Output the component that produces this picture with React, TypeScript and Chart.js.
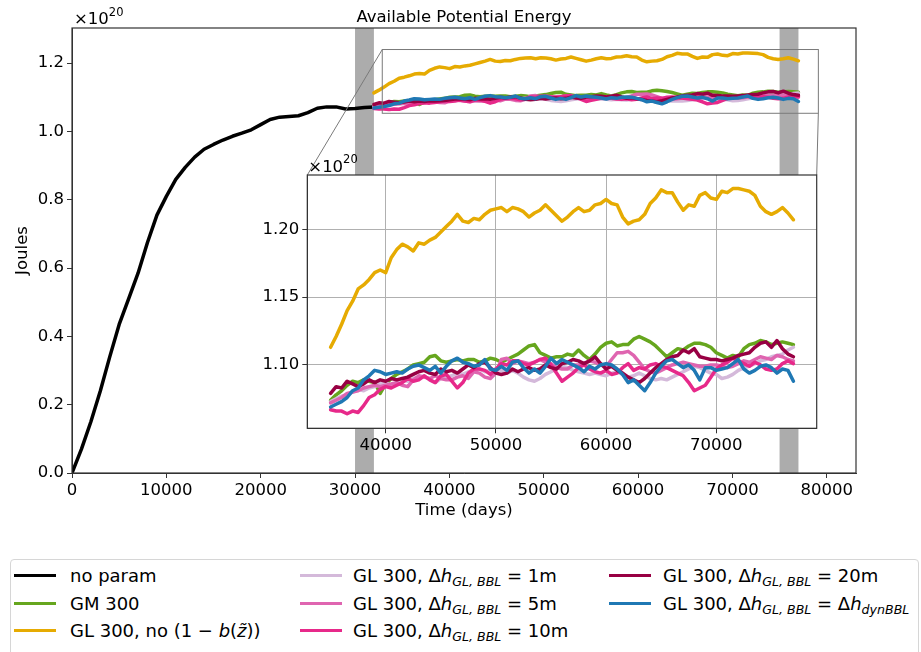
import React, { useEffect, useRef } from 'react';
import { Chart, registerables } from 'chart.js';

Chart.register(...registerables);

const FONT = '"DejaVu Sans", "Liberation Sans", sans-serif';
const FS = 16.5;

// ---------- axes ----------
const mainXTicks = [0, 10000, 20000, 30000, 40000, 50000, 60000, 70000, 80000];
const mainYTicks = [0.0, 0.2, 0.4, 0.6, 0.8, 1.0, 1.2];
const mainXRange = [0, 83100];
const mainYRange = [0, 1.303];
const shadedPeriods = [
  [30000, 32000],
  [75000, 77000],
];

const insetXTicks = [40000, 50000, 60000, 70000];
const insetYTicks = [1.1, 1.15, 1.2];
const insetXRange = [32886, 79110];
const insetYRange = [1.0533, 1.24];

// ---------- data ----------
const noParamDays = [
  0, 1000, 2000, 3000, 4000, 5000, 6000, 7000, 8000, 9000, 10000, 11000, 12000, 13000, 14000, 15000, 16000,
  17000, 18000, 19000, 20000, 21000, 22000, 23000, 24000, 25000, 26000, 27000, 28000, 29000, 30000, 31000, 32000,
];
const noParam = [
  0.0, 0.07, 0.15, 0.24, 0.34, 0.435, 0.51, 0.585, 0.675, 0.755, 0.81, 0.86, 0.895, 0.925, 0.948, 0.962, 0.975,
  0.986, 0.995, 1.005, 1.02, 1.035, 1.042, 1.044, 1.046, 1.055, 1.068, 1.072, 1.072, 1.066, 1.067, 1.07, 1.072,
];

// runs after the spin-up (inset time base: 35000 .. 77000 days, every 500 days)
const runFirstDay = 35000;
const runStepDays = 500;
const mainRunFirstDay = 32000;
const runLastDay = 77000;

const gm300 = [
  1.074, 1.078, 1.081, 1.085, 1.088, 1.087, 1.089, 1.088, 1.087, 1.079,
  1.086, 1.09, 1.093, 1.095, 1.097, 1.1, 1.101, 1.102, 1.106, 1.107,
  1.103, 1.102, 1.103, 1.104, 1.103, 1.104, 1.104, 1.102, 1.103, 1.105,
  1.104, 1.102, 1.104, 1.106, 1.108, 1.111, 1.114, 1.115, 1.109, 1.107,
  1.105, 1.106, 1.106, 1.108, 1.107, 1.111, 1.107, 1.104, 1.108, 1.113,
  1.116, 1.117, 1.114, 1.115, 1.115, 1.119, 1.121, 1.119, 1.117, 1.114,
  1.11, 1.106, 1.109, 1.112, 1.111, 1.114, 1.116, 1.116, 1.115, 1.113,
  1.109, 1.107, 1.105, 1.107, 1.106, 1.112, 1.115, 1.116, 1.118, 1.117,
  1.115, 1.116, 1.117, 1.116, 1.115,
];
const glNoB = [
  1.113, 1.121, 1.13, 1.14, 1.147, 1.156, 1.159, 1.163, 1.168, 1.17,
  1.168, 1.179, 1.185, 1.189, 1.187, 1.184, 1.19, 1.189, 1.192, 1.194,
  1.198, 1.202, 1.206, 1.211, 1.206, 1.205, 1.208, 1.207, 1.211, 1.214,
  1.215, 1.216, 1.213, 1.216, 1.215, 1.213, 1.209, 1.212, 1.214, 1.218,
  1.214, 1.21, 1.206, 1.209, 1.213, 1.216, 1.213, 1.214, 1.218, 1.219,
  1.222, 1.219, 1.218, 1.209, 1.204, 1.206, 1.207, 1.211, 1.219, 1.223,
  1.229, 1.227, 1.227, 1.22, 1.214, 1.218, 1.217, 1.225, 1.227, 1.223,
  1.222, 1.228, 1.227, 1.23, 1.23, 1.229, 1.228, 1.225, 1.217, 1.213,
  1.211, 1.213, 1.216, 1.212, 1.207,
];
const gl1m = [
  1.073, 1.075, 1.077, 1.078, 1.08, 1.082, 1.081, 1.083, 1.084, 1.086,
  1.087, 1.085, 1.087, 1.089, 1.088, 1.09, 1.091, 1.092, 1.089, 1.087,
  1.09, 1.091, 1.092, 1.094, 1.093, 1.095, 1.096, 1.097, 1.095, 1.096,
  1.097, 1.096, 1.094, 1.096, 1.094, 1.091, 1.089, 1.088, 1.09, 1.093,
  1.095, 1.097, 1.099, 1.098, 1.096, 1.095, 1.094, 1.093, 1.094, 1.093,
  1.092, 1.094, 1.095, 1.093, 1.091, 1.092, 1.094, 1.092, 1.09, 1.089,
  1.09, 1.089, 1.091, 1.093, 1.095, 1.097, 1.099, 1.098, 1.096, 1.094,
  1.093, 1.09, 1.091, 1.093, 1.096, 1.098, 1.099, 1.101, 1.103, 1.104,
  1.106, 1.107, 1.108, 1.111, 1.113,
];
const gl5m = [
  1.072, 1.074, 1.076, 1.079, 1.08, 1.081, 1.083, 1.084, 1.085, 1.084,
  1.085, 1.086, 1.087, 1.085, 1.084, 1.089, 1.092, 1.091, 1.09, 1.092,
  1.09, 1.089, 1.089, 1.091, 1.092, 1.09, 1.095, 1.094, 1.091, 1.09,
  1.094, 1.104, 1.105, 1.101, 1.103, 1.102, 1.101, 1.102, 1.104, 1.102,
  1.101, 1.098, 1.097, 1.097, 1.1, 1.1, 1.101, 1.103, 1.102, 1.1,
  1.099, 1.104, 1.109, 1.109, 1.11, 1.107, 1.102, 1.097, 1.095, 1.094,
  1.096, 1.098, 1.1, 1.101, 1.102, 1.101, 1.1, 1.099, 1.099, 1.1,
  1.1, 1.099, 1.098, 1.099, 1.101, 1.103, 1.102, 1.104, 1.106, 1.105,
  1.104, 1.107, 1.106, 1.104, 1.103,
];
const gl10m = [
  1.067, 1.066, 1.066, 1.064, 1.066, 1.065, 1.07, 1.076, 1.078, 1.082,
  1.084, 1.083, 1.085, 1.087, 1.09, 1.088, 1.089, 1.092, 1.089, 1.087,
  1.092, 1.093, 1.088, 1.083, 1.087, 1.094, 1.097, 1.097, 1.096, 1.093,
  1.097, 1.101, 1.1, 1.103, 1.103, 1.101, 1.1, 1.102, 1.104, 1.105,
  1.1, 1.094, 1.088, 1.091, 1.094, 1.098, 1.1, 1.097, 1.095, 1.094,
  1.096, 1.093, 1.094, 1.098, 1.101, 1.096, 1.098, 1.097, 1.1, 1.101,
  1.099, 1.098, 1.096, 1.094, 1.092, 1.087, 1.081, 1.083, 1.085, 1.091,
  1.097, 1.1, 1.102, 1.105, 1.103, 1.101, 1.099, 1.102, 1.1, 1.097,
  1.096, 1.097, 1.101, 1.103, 1.101,
];
const gl20m = [
  1.079, 1.084, 1.083, 1.088, 1.086, 1.084, 1.086, 1.089, 1.087, 1.089,
  1.088, 1.09, 1.089, 1.09, 1.091, 1.093, 1.095, 1.096, 1.094, 1.093,
  1.097, 1.095, 1.096, 1.094, 1.097, 1.1, 1.098, 1.101, 1.102, 1.098,
  1.094, 1.093, 1.094, 1.097, 1.095, 1.097, 1.098, 1.096, 1.097, 1.1,
  1.098, 1.097, 1.101, 1.102, 1.104, 1.103, 1.101, 1.103, 1.106, 1.101,
  1.097, 1.099, 1.096, 1.094, 1.091, 1.089, 1.087, 1.09, 1.094, 1.098,
  1.101, 1.104, 1.106, 1.107, 1.111, 1.109, 1.112, 1.106, 1.105, 1.104,
  1.104, 1.103, 1.104, 1.105, 1.107, 1.108, 1.109, 1.113, 1.116, 1.117,
  1.113, 1.118, 1.112, 1.108, 1.106,
];
const glDyn = [
  1.069, 1.071, 1.073, 1.076, 1.081, 1.083, 1.089, 1.092, 1.096, 1.095,
  1.093, 1.094, 1.095, 1.094, 1.097, 1.099, 1.1, 1.098, 1.096, 1.099,
  1.094, 1.099, 1.103, 1.105, 1.102, 1.101, 1.099, 1.1, 1.104, 1.097,
  1.096, 1.099, 1.096, 1.102, 1.103, 1.098, 1.094, 1.097, 1.094, 1.099,
  1.105, 1.101, 1.104, 1.102, 1.1, 1.098, 1.095, 1.099, 1.097, 1.1,
  1.101, 1.1, 1.097, 1.093, 1.087, 1.089, 1.085, 1.081, 1.087, 1.094,
  1.099, 1.103, 1.104, 1.101, 1.098, 1.1, 1.096, 1.089, 1.098, 1.098,
  1.096, 1.097, 1.098, 1.101, 1.104, 1.097, 1.094, 1.096, 1.099, 1.1,
  1.098, 1.094, 1.097, 1.096, 1.088,
];

const BLACK = '#000000';
const GREEN = '#66a61e';
const YELLOW = '#e6ab02';
const LAVENDER = '#d4b9da';
const PINK = '#df65b0';
const MAGENTA = '#e7298a';
const MAROON = '#980043';
const BLUE = '#1f78b4';

// runs in plotting order (last one on top)
const runs = [
  { name: 'GM 300', values: gm300, color: GREEN },
  { name: 'GL 300, no (1-b)', values: glNoB, color: YELLOW },
  { name: 'GL 300, 1m', values: gl1m, color: LAVENDER },
  { name: 'GL 300, 5m', values: gl5m, color: PINK },
  { name: 'GL 300, 10m', values: gl10m, color: MAGENTA },
  { name: 'GL 300, 20m', values: gl20m, color: MAROON },
  { name: 'GL 300, dyn', values: glDyn, color: BLUE },
];

const insetDays = gm300.map((_, i) => runFirstDay + i * runStepDays);
const mainRunDays = insetDays.map(
  (d) => mainRunFirstDay + ((d - runFirstDay) * (runLastDay - mainRunFirstDay)) / (runLastDay - runFirstDay)
);

const toPoints = (xs: number[], ys: number[]) => ys.map((v, i) => ({ x: xs[i], y: v }));

// ---------- layout (pixels in the 921x652 page) ----------
const MAIN = { w: 921, h: 540, left: 72, top: 28, right: 856, bottom: 473 };
const INSET_CANVAS = { left: 250, top: 150, w: 580, h: 310 };
const INSET = { left: 307.3, top: 175, right: 816.7, bottom: 428.3 };

const TICK_FONT = { family: FONT, size: FS };

const mainPlugin = {
  id: 'mainDecor',
  beforeDatasetsDraw(chart: any) {
    const { ctx, chartArea: a, scales } = chart;
    const x = scales.x;
    ctx.save();
    ctx.fillStyle = '#acacac';
    for (const [s, e] of shadedPeriods) {
      const x0 = x.getPixelForValue(s);
      const x1 = x.getPixelForValue(e);
      ctx.fillRect(x0, a.top, x1 - x0, a.bottom - a.top);
    }
    ctx.restore();
  },
  afterDatasetsDraw(chart: any) {
    const { ctx, chartArea: a, scales } = chart;
    const x = scales.x;
    const y = scales.y;
    ctx.save();
    // zoom rectangle
    const rx0 = x.getPixelForValue(insetXRange[0]);
    const rx1 = x.getPixelForValue(insetXRange[1]);
    const ryTop = y.getPixelForValue(insetYRange[1]);
    const ryBot = y.getPixelForValue(insetYRange[0]);
    ctx.strokeStyle = '#7a7a7a';
    ctx.lineWidth = 1;
    ctx.strokeRect(rx0, ryTop, rx1 - rx0, ryBot - ryTop);
    ctx.beginPath();
    ctx.moveTo(rx0, ryTop);
    ctx.lineTo(INSET.left, INSET.top);
    ctx.moveTo(rx1, ryBot);
    ctx.lineTo(INSET.right, INSET.top);
    ctx.stroke();
    // frame
    ctx.strokeStyle = '#333333';
    ctx.lineWidth = 1.2;
    ctx.strokeRect(a.left, a.top, a.right - a.left, a.bottom - a.top);
    // texts
    ctx.fillStyle = '#000';
    ctx.textBaseline = 'alphabetic';
    ctx.font = `${FS}px ${FONT}`;
    ctx.textAlign = 'center';
    ctx.fillText('Available Potential Energy', (a.left + a.right) / 2, 22);
    ctx.fillText('Time (days)', (a.left + a.right) / 2, 515);
    ctx.textAlign = 'left';
    ctx.fillText('×10', a.left + 2, 24);
    const w = ctx.measureText('×10').width;
    ctx.font = `11.5px ${FONT}`;
    ctx.fillText('20', a.left + 2 + w, 16);
    ctx.font = `${FS}px ${FONT}`;
    ctx.translate(23, (a.top + a.bottom) / 2);
    ctx.rotate(-Math.PI / 2);
    ctx.textAlign = 'center';
    ctx.textBaseline = 'middle';
    ctx.fillText('Joules', 0, 0);
    ctx.restore();
  },
};

const insetPlugin = {
  id: 'insetDecor',
  beforeDraw(chart: any) {
    const { ctx, chartArea: a } = chart;
    ctx.save();
    ctx.fillStyle = '#ffffff';
    ctx.fillRect(a.left, a.top, a.right - a.left, a.bottom - a.top);
    ctx.restore();
  },
  afterDraw(chart: any) {
    const { ctx, chartArea: a } = chart;
    ctx.save();
    ctx.strokeStyle = '#333333';
    ctx.lineWidth = 1.2;
    ctx.strokeRect(a.left, a.top, a.right - a.left, a.bottom - a.top);
    ctx.fillStyle = '#000';
    ctx.textAlign = 'left';
    ctx.textBaseline = 'alphabetic';
    ctx.font = `${FS}px ${FONT}`;
    ctx.fillText('×10', a.left + 1, a.top - 3.5);
    const w = ctx.measureText('×10').width;
    ctx.font = `11.5px ${FONT}`;
    ctx.fillText('20', a.left + 1 + w, a.top - 12);
    ctx.restore();
  },
};

function lineDataset(label: string, data: any[], color: string, order: number, width: number) {
  return {
    label,
    data,
    borderColor: color,
    backgroundColor: color,
    borderWidth: width,
    pointRadius: 0,
    tension: 0,
    fill: false,
    borderJoinStyle: 'round' as const,
    borderCapStyle: 'round' as const,
    order,
  };
}

function MainChart() {
  const ref = useRef<HTMLCanvasElement>(null);
  useEffect(() => {
    const datasets: any[] = [lineDataset('no param', toPoints(noParamDays, noParam), BLACK, 100, 3.5)];
    runs.forEach((r, i) => {
      datasets.push(lineDataset(r.name, toPoints(mainRunDays, r.values), r.color, runs.length - i, 3.5));
    });
    const chart = new Chart(ref.current as HTMLCanvasElement, {
      type: 'line',
      data: { datasets },
      options: {
        responsive: false,
        animation: false,
        events: [],
        layout: {
          padding: { left: 0, top: MAIN.top, right: MAIN.w - MAIN.right, bottom: MAIN.h - MAIN.bottom - 30 },
        },
        plugins: { legend: { display: false }, tooltip: { enabled: false }, title: { display: false } },
        scales: {
          x: {
            type: 'linear',
            min: mainXRange[0],
            max: mainXRange[1],
            afterBuildTicks: (s: any) => {
              s.ticks = mainXTicks.map((v) => ({ value: v }));
            },
            afterFit: (s: any) => {
              s.height = 30;
            },
            ticks: {
              font: TICK_FONT,
              color: '#000',
              maxRotation: 0,
              autoSkip: false,
              padding: 3,
              callback: (v: any) => String(v),
            },
            grid: { drawOnChartArea: false, drawTicks: true, tickLength: 5, color: '#333', tickColor: '#333' },
            border: { display: true, color: '#333' },
          },
          y: {
            type: 'linear',
            min: mainYRange[0],
            max: mainYRange[1],
            afterBuildTicks: (s: any) => {
              s.ticks = mainYTicks.map((v) => ({ value: v }));
            },
            afterFit: (s: any) => {
              s.width = MAIN.left;
            },
            ticks: {
              font: TICK_FONT,
              color: '#000',
              autoSkip: false,
              padding: 3,
              callback: (v: any) => Number(v).toFixed(1),
            },
            grid: { drawOnChartArea: false, drawTicks: true, tickLength: 5, color: '#333', tickColor: '#333' },
            border: { display: true, color: '#333' },
          },
        },
      } as any,
      plugins: [mainPlugin],
    });
    return () => chart.destroy();
  }, []);
  return (
    <canvas
      ref={ref}
      width={MAIN.w}
      height={MAIN.h}
      style={{ position: 'absolute', left: 0, top: 0, width: MAIN.w, height: MAIN.h }}
    />
  );
}

function InsetChart() {
  const ref = useRef<HTMLCanvasElement>(null);
  useEffect(() => {
    const datasets: any[] = runs.map((r, i) =>
      lineDataset(r.name, toPoints(insetDays, r.values), r.color, runs.length - i, 3.5)
    );
    const cL = INSET.left - INSET_CANVAS.left;
    const cT = INSET.top - INSET_CANVAS.top;
    const cR = INSET_CANVAS.w - (INSET.right - INSET_CANVAS.left);
    const cB = INSET_CANVAS.h - (INSET.bottom - INSET_CANVAS.top);
    const chart = new Chart(ref.current as HTMLCanvasElement, {
      type: 'line',
      data: { datasets },
      options: {
        responsive: false,
        animation: false,
        events: [],
        clip: true,
        layout: { padding: { left: 0, top: cT, right: cR, bottom: cB - 25 } },
        plugins: { legend: { display: false }, tooltip: { enabled: false }, title: { display: false } },
        scales: {
          x: {
            type: 'linear',
            min: insetXRange[0],
            max: insetXRange[1],
            afterBuildTicks: (s: any) => {
              s.ticks = insetXTicks.map((v) => ({ value: v }));
            },
            afterFit: (s: any) => {
              s.height = 25;
            },
            ticks: {
              font: TICK_FONT,
              color: '#000',
              maxRotation: 0,
              autoSkip: false,
              padding: 3,
              callback: (v: any) => String(v),
            },
            grid: { drawOnChartArea: true, drawTicks: true, tickLength: 5, color: '#b0b0b0', tickColor: '#333', lineWidth: 1 },
            border: { display: true, color: '#333' },
          },
          y: {
            type: 'linear',
            min: insetYRange[0],
            max: insetYRange[1],
            afterBuildTicks: (s: any) => {
              s.ticks = insetYTicks.map((v) => ({ value: v }));
            },
            afterFit: (s: any) => {
              s.width = cL;
            },
            ticks: {
              font: TICK_FONT,
              color: '#000',
              autoSkip: false,
              padding: 3,
              callback: (v: any) => Number(v).toFixed(2),
            },
            grid: { drawOnChartArea: true, drawTicks: true, tickLength: 5, color: '#b0b0b0', tickColor: '#333', lineWidth: 1 },
            border: { display: true, color: '#333' },
          },
        },
      } as any,
      plugins: [insetPlugin],
    });
    return () => chart.destroy();
  }, []);
  return (
    <canvas
      ref={ref}
      width={INSET_CANVAS.w}
      height={INSET_CANVAS.h}
      style={{
        position: 'absolute',
        left: INSET_CANVAS.left,
        top: INSET_CANVAS.top,
        width: INSET_CANVAS.w,
        height: INSET_CANVAS.h,
      }}
    />
  );
}

const subStyle: React.CSSProperties = { fontSize: '0.7em', verticalAlign: '-0.3em', lineHeight: 0, fontStyle: 'italic' };
const glLabel = (rhs: React.ReactNode) => (
  <>
    GL 300, Δ<i>h</i>
    <sub style={subStyle}>GL, BBL</sub> = {rhs}
  </>
);

const legendEntries = [
  { color: BLACK, label: <>no param</> },
  { color: GREEN, label: <>GM 300</> },
  {
    color: YELLOW,
    label: (
      <>
        GL 300, no (1 − <i>b</i>(<i>z̃</i>))
      </>
    ),
  },
  { color: LAVENDER, label: glLabel('1m') },
  { color: PINK, label: glLabel('5m') },
  { color: MAGENTA, label: glLabel('10m') },
  { color: MAROON, label: glLabel('20m') },
  {
    color: BLUE,
    label: glLabel(
      <>
        Δ<i>h</i>
        <sub style={subStyle}>dynBBL</sub>
      </>
    ),
  },
];

const LEGEND_BOX = { left: 10, top: 559, width: 909, height: 110 };
const legendColLineX = [14, 300, 609];
const legendColTextX = [70, 353, 663];
const legendRowY = [576, 604, 631];

function Legend() {
  return (
    <div
      style={{
        position: 'absolute',
        left: LEGEND_BOX.left,
        top: LEGEND_BOX.top,
        width: LEGEND_BOX.width,
        height: LEGEND_BOX.height,
        border: '1px solid #d6d6d6',
        borderRadius: 4,
        boxSizing: 'border-box',
        fontFamily: FONT,
        fontSize: 18,
        color: '#000',
      }}
    >
      {legendEntries.map((e, i) => {
        const col = Math.floor(i / 3);
        const row = i % 3;
        const cy = legendRowY[row] - LEGEND_BOX.top - 1;
        return (
          <React.Fragment key={i}>
            <div
              style={{
                position: 'absolute',
                left: legendColLineX[col] - LEGEND_BOX.left - 1,
                top: cy - 2,
                width: 42,
                height: 3,
                background: e.color,
              }}
            />
            <div
              style={{
                position: 'absolute',
                left: legendColTextX[col] - LEGEND_BOX.left - 1,
                top: cy,
                transform: 'translateY(-50%)',
                whiteSpace: 'nowrap',
                lineHeight: 1,
              }}
            >
              {e.label}
            </div>
          </React.Fragment>
        );
      })}
    </div>
  );
}

export default function App() {
  return (
    <div
      style={{
        position: 'absolute',
        left: 0,
        top: 0,
        width: 921,
        height: 652,
        overflow: 'hidden',
        background: '#ffffff',
      }}
    >
      <MainChart />
      <InsetChart />
      <Legend />
    </div>
  );
}
